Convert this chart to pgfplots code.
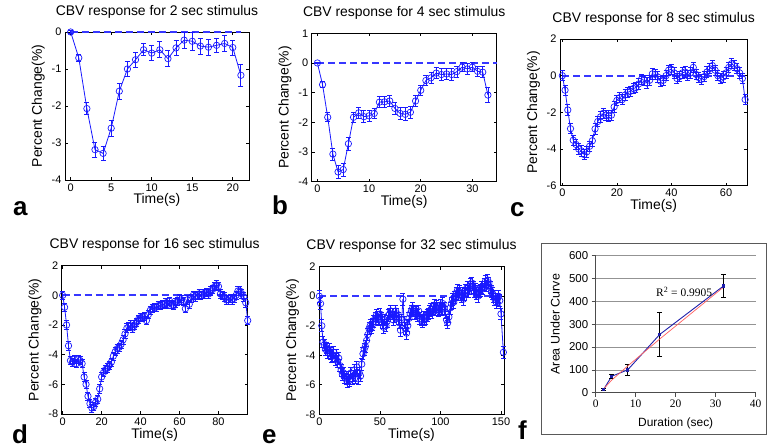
\documentclass[border=0pt]{standalone}
\usepackage{pgfplots}
\pgfplotsset{compat=1.18}
\usepackage{fontspec}
\setmainfont{Liberation Sans}
\newfontfamily\seriffont{Liberation Serif}
\definecolor{mblue}{RGB}{25,25,255}
\definecolor{dblue}{RGB}{55,55,255}
\definecolor{xlblue}{RGB}{30,30,170}
\definecolor{xlred}{RGB}{255,95,95}

\pgfplotsset{
  mat/.style={
    scale only axis, anchor=south west, clip=false,
    tick align=inside, major tick length=3bp,
    /pgf/number format/assume math mode=true,
    axis line style={line width=0.6bp},
    every tick/.append style={black, line width=0.6bp},
    tick label style={font=\fontsize{11}{11}\selectfont},
    title style={at={(axis description cs:0.5,1)}, anchor=base, yshift=11bp, font=\fontsize{14}{14}\selectfont},
    xlabel style={at={([yshift=-24bp]axis description cs:0.5,0)}, anchor=base, font=\fontsize{14}{14}\selectfont},
    ylabel style={at={([xshift=-23bp]axis description cs:0,0.5)}, anchor=base, font=\fontsize{14}{14}\selectfont},
    xlabel={Time(s)}, ylabel={Percent Change(\%)},
  },
  resp/.style={mblue, line width=0.8bp, mark=o, mark size=3.2bp,
    mark options={solid, line width=0.7bp},
    error bars/y dir=both,
    error bars/error bar style={line width=0.8bp, mblue},
    error bars/error mark options={rotate=90, mark size=2.5bp, line width=0.8bp, mblue}},
  zline/.style={dblue, line width=1.8bp, dash pattern=on 7bp off 4bp, no marks, forget plot},
}

\begin{document}
\begin{tikzpicture}
\path[use as bounding box] (0,0) rectangle (767bp,448bp);

% a: 2 sec
\begin{axis}[mat, at={(65bp,268bp)}, width=184bp, height=148bp,
  xmin=-0.7, xmax=22, ymin=-4, ymax=0, xtick={0,5,...,20}, ytick={-4,...,0},
  title={CBV response for 2 sec stimulus}]
\addplot[zline] coordinates {(0,0) (21,0)};
\addplot[resp, error bars/y explicit] coordinates {
(0,0) +- (0,0.05) (1,-0.70) +- (0,0.10) (2,-2.07) +- (0,0.17) (3,-3.18) +- (0,0.20)
(4,-3.28) +- (0,0.20) (5,-2.60) +- (0,0.22) (6,-1.60) +- (0,0.22) (7,-1.00) +- (0,0.20)
(8,-0.75) +- (0,0.20) (9,-0.48) +- (0,0.16) (10,-0.57) +- (0,0.20) (11,-0.48) +- (0,0.22)
(12,-0.72) +- (0,0.22) (13,-0.43) +- (0,0.20) (14,-0.22) +- (0,0.22) (15,-0.25) +- (0,0.25)
(16,-0.38) +- (0,0.22) (17,-0.41) +- (0,0.22) (18,-0.36) +- (0,0.20) (19,-0.31) +- (0,0.22)
(20,-0.42) +- (0,0.20) (21,-1.17) +- (0,0.30)};
\end{axis}

% b: 4 sec
\begin{axis}[mat, at={(311.7bp,266.3bp)}, width=185bp, height=148.4bp,
  xmin=-1.1, xmax=34.7, ymin=-4, ymax=1, xtick={0,10,20,30}, ytick={-4,...,1},
  title={CBV response for 4 sec stimulus}]
\addplot[zline] coordinates {(0,0) (34.7,0)};
\addplot[resp, error bars/y explicit] coordinates {
(0,0) +- (0,0.03) (1,-0.73) +- (0,0.10) (2,-1.83) +- (0,0.15) (3,-3.07) +- (0,0.20)
(4,-3.67) +- (0,0.22) (5,-3.59) +- (0,0.22) (6,-2.72) +- (0,0.22) (7,-1.83) +- (0,0.18)
(8,-1.68) +- (0,0.20) (9,-1.81) +- (0,0.20) (10,-1.78) +- (0,0.18) (11,-1.70) +- (0,0.18)
(12,-1.32) +- (0,0.18) (13,-1.31) +- (0,0.18) (14,-1.28) +- (0,0.18) (15,-1.53) +- (0,0.20)
(16,-1.70) +- (0,0.20) (17,-1.73) +- (0,0.22) (18,-1.66) +- (0,0.20) (19,-1.28) +- (0,0.18)
(20,-0.92) +- (0,0.18) (21,-0.59) +- (0,0.18) (22,-0.50) +- (0,0.18) (23,-0.34) +- (0,0.18)
(24,-0.39) +- (0,0.20) (25,-0.37) +- (0,0.20) (26,-0.39) +- (0,0.20) (27,-0.29) +- (0,0.18)
(28,-0.14) +- (0,0.16) (29,-0.20) +- (0,0.18) (30,-0.14) +- (0,0.16) (31,-0.28) +- (0,0.18)
(32,-0.31) +- (0,0.18) (33,-1.08) +- (0,0.25)};
\end{axis}

% c: 8 sec
\begin{axis}[mat, at={(560bp,262.3bp)}, width=187.3bp, height=146.7bp,
  xmin=-0.85, xmax=67.8, ymin=-6, ymax=2, xtick={0,20,40,60}, ytick={-6,-4,...,2},
  title={CBV response for 8 sec stimulus}]
\addplot[zline] coordinates {(0,0) (67.8,0)};
\addplot[resp, error bars/y fixed=0.28] coordinates {
(0,0) (1,-0.79) (2,-1.87) (3,-2.89) (4,-3.52) (5,-3.75) (6,-4.0) (7,-4.1) (8,-4.3) (9,-4.15)
(10,-3.85) (11,-3.55) (12,-2.9) (13,-2.5) (14,-2.25) (15,-2.05) (16,-2.15) (17,-2.2) (18,-2.15) (19,-1.7)
(20,-1.35) (21,-1.2) (22,-1.3) (23,-1.05) (24,-0.9) (25,-0.85) (26,-0.7) (27,-0.65) (28,-0.45) (29,-0.2)
(30,-0.25) (31,-0.4) (32,-0.25) (33,0.1) (34,0.07) (35,-0.07) (36,-0.3) (37,-0.25) (38,0) (39,0.3)
(40,0.35) (41,0.15) (42,-0.15) (43,-0.05) (44,0.15) (45,0.2) (46,0) (47,0.15) (48,0.45) (49,0.07)
(50,-0.1) (51,-0.2) (52,-0.05) (53,0.2) (54,0.38) (55,0.55) (56,0.3) (57,0) (58,-0.15) (59,-0.07)
(60,0.15) (61,0.45) (62,0.65) (63,0.55) (64,0.38) (65,0.15) (66,-0.15) (67,-1.3)};
\end{axis}

% d: 16 sec
\begin{axis}[mat, at={(61.7bp,34bp)}, width=186bp, height=148.3bp,
  xmin=-0.5, xmax=95, ymin=-8, ymax=2, xtick={0,20,...,80}, ytick={-8,-6,...,2},
  title={CBV response for 16 sec stimulus}]
\addplot[zline] coordinates {(0,0) (95,0)};
\addplot[resp, error bars/y fixed=0.28] coordinates {
(0,0) (1,-0.8) (2,-2.0) (3,-3.4) (4,-4.4) (5,-4.5) (6,-4.3) (7,-4.6) (8,-4.3) (9,-4.4)
(10,-4.6) (11,-5.5) (12,-6.0) (13,-6.8) (14,-7.3) (15,-7.6) (16,-7.5) (17,-7.2) (18,-7.0) (19,-6.3)
(20,-5.5) (21,-5.2) (22,-5.0) (23,-4.9) (24,-4.7) (25,-4.5) (26,-4.1) (27,-3.8) (28,-3.6) (29,-3.5)
(30,-3.3) (31,-3.0) (32,-2.6) (33,-2.2) (34,-2.1) (35,-2.0) (36,-2.2) (37,-2.0) (38,-1.8) (39,-1.6)
(40,-1.5) (41,-1.5) (42,-1.4) (43,-1.7) (44,-1.3) (45,-1.0) (46,-0.9) (47,-0.8) (48,-0.8) (49,-0.7)
(50,-0.7) (51,-0.6) (52,-0.6) (53,-0.5) (54,-0.6) (55,-0.4) (56,-0.6) (57,-0.7) (58,-0.5) (59,-0.4)
(60,-0.2) (61,-0.3) (62,-0.4) (63,-0.9) (64,-0.3) (65,-0.6) (66,-0.2) (67,0.0) (68,-0.1) (69,0.0)
(70,0.1) (71,0.0) (72,0.1) (73,0.1) (74,0.2) (75,0.1) (76,0.3) (77,0.4) (78,0.6) (79,0.7)
(80,0.6) (81,0.1) (82,0.0) (83,-0.1) (84,-0.3) (85,-0.3) (86,-0.2) (87,-0.3) (88,-0.2) (89,0.0)
(90,0.3) (91,0.3) (92,0.1) (93,-0.1) (94,-0.5) (95,-1.7)};
\end{axis}

% e: 32 sec
\begin{axis}[mat, at={(319bp,33.7bp)}, width=185bp, height=147.6bp,
  xmin=-0.3, xmax=152.5, ymin=-8, ymax=2, xtick={0,50,100,150}, ytick={-8,-6,...,2},
  title={CBV response for 32 sec stimulus}]
\addplot[zline] coordinates {(0,0) (152.5,0)};
\addplot[resp, error bars/y fixed=0.4] coordinates {
(0,0) (1,-0.5) (2,-2.0) (3,-3.1) (4,-3.3) (5,-3.6) (6,-3.5) (7,-3.8) (8,-3.6) (9,-3.9)
(10,-4.1) (11,-4.0) (12,-3.8) (13,-4.3) (14,-4.0) (15,-4.4) (16,-4.2) (17,-4.7) (18,-5.0) (19,-5.3)
(20,-5.2) (21,-5.5) (22,-5.6) (23,-5.8) (24,-5.5) (25,-5.7) (26,-5.2) (27,-5.6) (28,-5.4) (29,-5.0)
(30,-5.5) (31,-4.8) (32,-5.6) (33,-5.2) (34,-5.4) (35,-4.6) (36,-3.9) (37,-3.6) (38,-3.4) (39,-3.0)
(40,-2.6) (41,-2.2) (42,-2.0) (43,-2.1) (44,-1.9) (45,-1.7) (46,-1.5) (47,-1.3) (48,-1.4) (49,-1.6)
(50,-1.2) (51,-1.5) (52,-1.8) (53,-2.1) (54,-1.6) (55,-2.0) (56,-1.7) (57,-1.3) (58,-1.2) (59,-1.0)
(60,-1.2) (61,-1.6) (62,-1.4) (63,-1.0) (64,-1.2) (65,-1.5) (66,-1.8) (67,-2.3) (68,-1.6) (69,-0.2)
(70,-1.8) (71,-2.2) (72,-2.5) (73,-2.0) (74,-1.5) (75,-1.2) (76,-1.0) (77,-0.8) (78,-1.0) (79,-1.2)
(80,-1.1) (81,-1.3) (82,-1.0) (83,-1.5) (84,-1.6) (85,-1.7) (86,-1.4) (87,-1.6) (88,-1.5) (89,-1.3)
(90,-1.2) (91,-1.0) (92,-0.9) (93,-1.1) (94,-0.8) (95,-0.6) (96,-0.9) (97,-0.7) (98,-1.0) (99,-0.8)
(100,-0.6) (101,-0.9) (102,-0.5) (103,-0.8) (104,-1.1) (105,-1.6) (106,-1.8) (107,-1.4) (108,-0.8) (109,-0.5)
(110,-0.2) (111,-0.4) (112,-0.1) (113,0.2) (114,0.4) (115,0.1) (116,0.3) (117,0.0) (118,0.2) (119,-0.2)
(120,0.1) (121,0.4) (122,0.6) (123,0.3) (124,0.5) (125,0.8) (126,0.9) (127,0.6) (128,0.3) (129,0.5)
(130,0.2) (131,0.0) (132,0.3) (133,0.4) (134,0.6) (135,0.5) (136,0.8) (137,1.0) (138,0.7) (139,1.1)
(140,0.9) (141,0.6) (142,0.3) (143,0.2) (144,0.0) (145,-0.2) (146,-0.4) (147,-0.2) (148,0.0) (149,-0.3)
(150,-1.2) (152,-3.8)};
\end{axis}

% f: area under curve
\begin{axis}[scale only axis, anchor=south west, clip=false,
  at={(595.7bp,55.3bp)}, width=160bp, height=137bp,
  xmin=0, xmax=40, ymin=0, ymax=600,
  axis x line*=bottom, axis y line*=left,
  axis line style={gray!60!black, line width=0.6bp, -},
  xtick={0,10,...,40}, ytick={0,100,...,600},
  ymajorgrids, major grid style={gray!85, line width=0.6bp},
  tick align=outside, major tick length=4bp,
  every tick/.append style={gray!60!black, line width=0.6bp},
  /pgf/number format/assume math mode=true,
  xticklabel style={font=\seriffont\fontsize{11.5}{11.5}\selectfont},
  yticklabel style={font=\fontsize{11.5}{11.5}\selectfont},
  xlabel={Duration (sec)}, ylabel={Area Under Curve},
  xlabel style={at={([yshift=-34bp]axis description cs:0.5,0)}, anchor=base, font=\fontsize{12}{12}\selectfont},
  ylabel style={at={([xshift=-36bp]axis description cs:0,0.5)}, anchor=base, font=\fontsize{12.5}{12.5}\selectfont}]
\addplot[xlblue, line width=0.9bp, mark=square*, mark size=1.2bp, mark options={xlblue},
  error bars/y dir=both, error bars/y explicit,
  error bars/error bar style={black, line width=0.6bp},
  error bars/error mark options={black, rotate=90, mark size=2.5bp, line width=0.6bp}]
  coordinates {(2,15) +- (0,6) (4,72) +- (0,8) (8,100) +- (0,25) (16,255) +- (0,95) (32,468) +- (0,50)};
\addplot[xlred, line width=0.7bp, no marks] coordinates {(2,17) (4,55) (8,117) (16,235) (32,463)};
\node[font=\seriffont\fontsize{11.5}{11.5}\selectfont] at (axis cs:22.1,441) {R\textsuperscript{2} = 0.9905};
\end{axis}

\draw[gray!70!black, line width=0.7bp] (541.7bp,204.7bp) rectangle (766.3bp,14bp);

\begin{scope}[every node/.style={font=\bfseries\fontsize{26}{26}\selectfont, anchor=base west, inner sep=0pt}]
\node at (13bp,232bp) {a};
\node at (272bp,233bp) {b};
\node at (510bp,231bp) {c};
\node at (12bp,5bp) {d};
\node at (262bp,5bp) {e};
\node at (518bp,9bp) {f};
\end{scope}
\end{tikzpicture}
\end{document}
